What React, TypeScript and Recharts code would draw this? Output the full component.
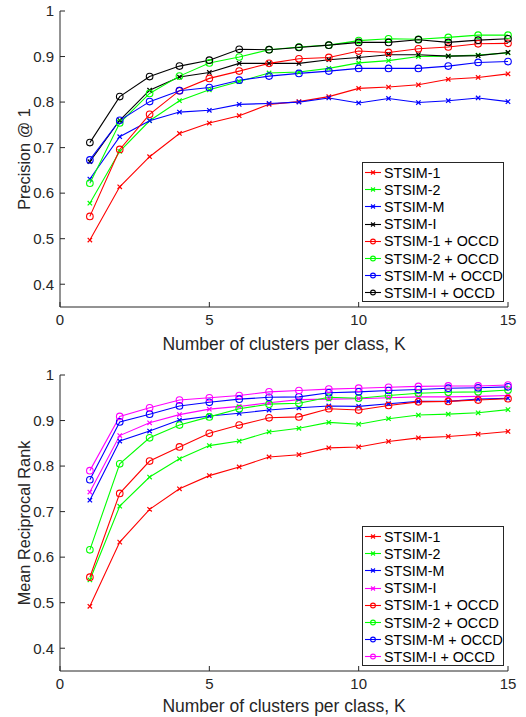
import { LineChart, Line, XAxis, YAxis, Legend } from 'recharts'

const ks = [1, 2, 3, 4, 5, 6, 7, 8, 9, 10, 11, 12, 13, 14, 15]
const xTicks = [0, 5, 10, 15]
const yTicks = [0.4, 0.5, 0.6, 0.7, 0.8, 0.9, 1]

const seriesNames = [
  'STSIM-1', 'STSIM-2', 'STSIM-M', 'STSIM-I',
  'STSIM-1 + OCCD', 'STSIM-2 + OCCD', 'STSIM-M + OCCD', 'STSIM-I + OCCD',
]

// precision @ 1
const p1Stsim1 = [0.497, 0.614, 0.68, 0.731, 0.754, 0.77, 0.795, 0.801, 0.812, 0.83, 0.833, 0.838, 0.85, 0.854, 0.862]
const p1Stsim2 = [0.578, 0.692, 0.759, 0.803, 0.827, 0.845, 0.864, 0.866, 0.874, 0.886, 0.891, 0.9, 0.901, 0.903, 0.908]
const p1StsimM = [0.631, 0.724, 0.759, 0.778, 0.782, 0.795, 0.797, 0.8, 0.809, 0.798, 0.808, 0.799, 0.803, 0.809, 0.801]
const p1StsimI = [0.669, 0.76, 0.826, 0.855, 0.865, 0.885, 0.885, 0.885, 0.893, 0.898, 0.904, 0.904, 0.901, 0.902, 0.909]
const p1Stsim1Occd = [0.549, 0.696, 0.773, 0.825, 0.852, 0.868, 0.885, 0.895, 0.898, 0.912, 0.909, 0.917, 0.921, 0.928, 0.929]
const p1Stsim2Occd = [0.622, 0.754, 0.819, 0.857, 0.886, 0.899, 0.915, 0.921, 0.925, 0.935, 0.939, 0.938, 0.942, 0.947, 0.947]
const p1StsimMOccd = [0.673, 0.76, 0.801, 0.825, 0.832, 0.848, 0.857, 0.863, 0.868, 0.874, 0.874, 0.874, 0.879, 0.887, 0.889]
const p1StsimIOccd = [0.711, 0.812, 0.856, 0.879, 0.892, 0.916, 0.915, 0.92, 0.925, 0.931, 0.931, 0.937, 0.931, 0.936, 0.939]

// mean reciprocal rank
const mrrStsim1 = [0.492, 0.633, 0.705, 0.75, 0.779, 0.798, 0.82, 0.825, 0.84, 0.842, 0.854, 0.862, 0.865, 0.87, 0.876]
const mrrStsim2 = [0.55, 0.712, 0.776, 0.816, 0.845, 0.855, 0.875, 0.883, 0.896, 0.892, 0.904, 0.912, 0.914, 0.917, 0.924]
const mrrStsimM = [0.725, 0.855, 0.877, 0.901, 0.91, 0.916, 0.923, 0.928, 0.932, 0.931, 0.937, 0.942, 0.942, 0.947, 0.949]
const mrrStsimI = [0.743, 0.867, 0.895, 0.913, 0.925, 0.931, 0.939, 0.946, 0.947, 0.948, 0.95, 0.952, 0.952, 0.953, 0.955]
const mrrStsim1Occd = [0.556, 0.74, 0.811, 0.842, 0.872, 0.89, 0.906, 0.908, 0.926, 0.923, 0.933, 0.941, 0.942, 0.945, 0.948]
const mrrStsim2Occd = [0.616, 0.805, 0.862, 0.89, 0.908, 0.926, 0.936, 0.938, 0.951, 0.949, 0.955, 0.96, 0.962, 0.963, 0.967]
const mrrStsimMOccd = [0.77, 0.897, 0.914, 0.932, 0.94, 0.947, 0.951, 0.952, 0.961, 0.963, 0.966, 0.968, 0.971, 0.972, 0.974]
const mrrStsimIOccd = [0.79, 0.909, 0.928, 0.945, 0.95, 0.955, 0.963, 0.966, 0.969, 0.971, 0.973, 0.975, 0.976, 0.976, 0.978]

const topColors = ['#ff0000', '#00ff00', '#0000ff', '#000000', '#ff0000', '#00ff00', '#0000ff', '#000000']
const bottomColors = ['#ff0000', '#00ff00', '#0000ff', '#ff00ff', '#ff0000', '#00ff00', '#0000ff', '#ff00ff']

const FONT = '"Liberation Sans", Arial, Helvetica, sans-serif'
const AXIS = '#262626'

const toRows = (series: number[][]) =>
  ks.map((k, i) => {
    const row: Record<string, number> = { k }
    series.forEach((s, j) => { row['s' + j] = s[i] })
    return row
  })

const crossDot = (props: any) => {
  const { cx, cy, stroke, index } = props
  if (cx == null || cy == null) return <g key={index} />
  const d = 2.2
  return (
    <path key={index} d={`M${cx - d},${cy - d}L${cx + d},${cy + d}M${cx - d},${cy + d}L${cx + d},${cy - d}`}
      stroke={stroke} strokeWidth={1.2} fill="none" />
  )
}

const circleDot = (props: any) => {
  const { cx, cy, stroke, index } = props
  if (cx == null || cy == null) return <g key={index} />
  return <circle key={index} cx={cx} cy={cy} r={3.3} stroke={stroke} strokeWidth={1.1} fill="none" />
}

function LegendBox({ colors }: { colors: string[] }) {
  return (
    <div style={{
      border: `1px solid ${AXIS}`, background: '#fff', width: 142, height: 140,
      boxSizing: 'border-box', padding: '1px 0 0 1px', fontFamily: FONT, fontSize: 14.3, color: '#000',
    }}>
      {seriesNames.map((n, i) => (
        <div key={n} style={{ display: 'flex', alignItems: 'center', height: 17.2 }}>
          <svg width={19} height={17} style={{ flex: 'none' }}>
            <line x1={1} y1={8.5} x2={17} y2={8.5} stroke={colors[i]} strokeWidth={1.1} />
            {i < 4
              ? <path d="M7,6.5L11,10.5M7,10.5L11,6.5" stroke={colors[i]} strokeWidth={1.1} />
              : <circle cx={9} cy={8.5} r={2.4} stroke={colors[i]} strokeWidth={1.1} fill="none" />}
          </svg>
          <span style={{ whiteSpace: 'nowrap', marginLeft: 1 }}>{n}</span>
        </div>
      ))}
    </div>
  )
}

function YLabel(props: any) {
  const { viewBox, value } = props
  const cy = viewBox.y + viewBox.height / 2
  return (
    <text x={24} y={cy} transform={`rotate(-90 24 ${cy})`} textAnchor="middle" dominantBaseline="central"
      fill={AXIS} fontSize={16.3} fontFamily={FONT}>{value}</text>
  )
}

function XLabel(props: any) {
  const { viewBox, value, gap } = props
  return (
    <text x={viewBox.x + viewBox.width / 2} y={viewBox.y + gap} textAnchor="middle" dominantBaseline="central"
      fill={AXIS} fontSize={17.5} fontFamily={FONT}>{value}</text>
  )
}

function Panel({ series, colors, yLabel, top, gap }: {
  series: number[][]; colors: string[]; yLabel: string; top: number; gap: number
}) {
  const rows = toRows(series)
  return (
    <div style={{ position: 'absolute', left: 0, top }}>
      <LineChart width={526} height={357} data={rows} margin={{ top: 11, right: 18, bottom: 0, left: 0 }}>
        <XAxis
          dataKey="k" type="number" domain={[0, 15]} ticks={xTicks} interval={0}
          height={50} tickSize={-5} tickMargin={12}
          stroke={AXIS} tick={{ fill: AXIS, fontSize: 15, fontFamily: FONT }}
          label={<XLabel value="Number of clusters per class, K" gap={gap} />}
        />
        <YAxis
          type="number" domain={[0.35, 1]} ticks={yTicks} interval={0} allowDataOverflow
          width={60} tickSize={-5} tickMargin={11}
          stroke={AXIS} tick={{ fill: AXIS, fontSize: 15, fontFamily: FONT }}
          tickFormatter={(v: number) => String(Math.round(v * 10) / 10)}
          label={<YLabel value={yLabel} />}
        />
        <Legend
          layout="vertical" align="center" verticalAlign="middle"
          wrapperStyle={{ left: 362, top: 162, width: 142 }}
          content={() => <LegendBox colors={colors} />}
        />
        {series.map((_, j) => (
          <Line
            key={j} dataKey={'s' + j} name={seriesNames[j]} stroke={colors[j]} strokeWidth={1.1}
            dot={j < 4 ? crossDot : circleDot} activeDot={false} isAnimationActive={false}
          />
        ))}
      </LineChart>
    </div>
  )
}

export default function App() {
  return (
    <div style={{
      position: 'absolute', left: 0, top: 0, width: 526, height: 717, background: '#fff', overflow: 'hidden',
    }}>
      <Panel
        top={0} gap={37} yLabel="Precision @ 1" colors={topColors}
        series={[p1Stsim1, p1Stsim2, p1StsimM, p1StsimI, p1Stsim1Occd, p1Stsim2Occd, p1StsimMOccd, p1StsimIOccd]}
      />
      <Panel
        top={364} gap={35} yLabel="Mean Reciprocal Rank" colors={bottomColors}
        series={[mrrStsim1, mrrStsim2, mrrStsimM, mrrStsimI, mrrStsim1Occd, mrrStsim2Occd, mrrStsimMOccd, mrrStsimIOccd]}
      />
    </div>
  )
}
